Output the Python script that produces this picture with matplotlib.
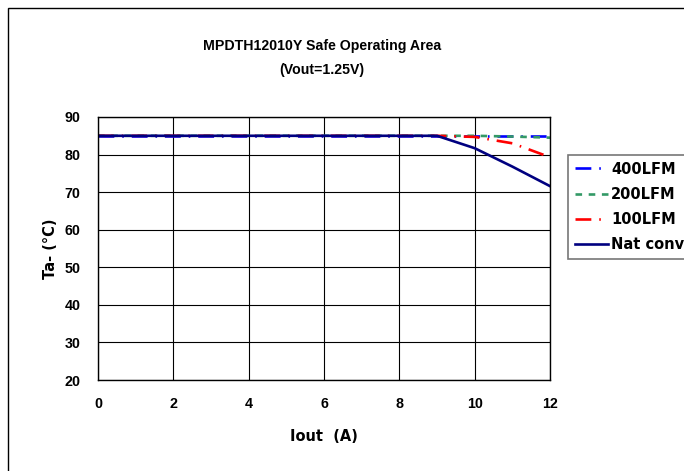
import matplotlib
matplotlib.use("Agg")
import matplotlib.pyplot as plt
from matplotlib.patches import Rectangle

plt.rcParams['font.family'] = ['Liberation Sans', 'DejaVu Sans']
plt.rcParams['font.weight'] = 'bold'

iout = [0, 1, 2, 3, 4, 5, 6, 7, 8, 9, 10, 11, 12]
lfm400 = [85, 85, 85, 85, 85, 85, 85, 85, 85, 85, 85, 85, 85]
lfm200 = [85, 85, 85, 85, 85, 85, 85, 85, 85, 85, 85, 84.8, 84.5]
lfm100 = [85, 85, 85, 85, 85, 85, 85, 85, 85, 85, 84.7, 83, 79.3]
natconv = [85, 85, 85, 85, 85, 85, 85, 85, 85, 85, 81.7, 76.8, 71.6]
xticks = [0, 2, 4, 6, 8, 10, 12]
yticks = [20, 30, 40, 50, 60, 70, 80, 90]

W, H = 684, 471
fig = plt.figure(figsize=(W / 100, H / 100), dpi=100)
fig.patch.set_facecolor('white')

# outer chart border
fig.add_artist(Rectangle((8 / W, -0.1), 1.2, 1 - 8 / H + 0.1, transform=fig.transFigure,
                         fill=False, edgecolor='black', linewidth=1.0, clip_on=False))

ax = fig.add_axes([98 / W, 1 - 380 / H, (550 - 98) / W, (380 - 117) / H])
lw = 1.9
l1, = ax.plot(iout, lfm400, color='#0000FF', lw=lw, dashes=(6, 3, 0.6, 3), label='400LFM')
l2, = ax.plot(iout, lfm200, color='#339966', lw=lw, dashes=(2.5, 2.5), label='200LFM')
l3, = ax.plot(iout, lfm100, color='#FF0000', lw=lw, dashes=(6, 3, 0.6, 3), label='100LFM')
l4, = ax.plot(iout, natconv, color='#000080', lw=lw, label='Nat conv')

ax.set_xlim(0, 12)
ax.set_ylim(20, 90)
ax.set_xticks(xticks)
ax.set_yticks(yticks)
ax.grid(True, color='black', linewidth=0.8)
ax.set_axisbelow(True)
ax.tick_params(length=0, labelsize=10.3)
ax.tick_params(axis='x', pad=12)
ax.tick_params(axis='y', pad=12.5)
for lab in ax.get_xticklabels() + ax.get_yticklabels():
    lab.set_fontweight('bold')
for s in ax.spines.values():
    s.set_linewidth(1.0)

ax.set_xlabel('Iout  (A)', fontsize=10.5, fontweight='bold', labelpad=13,
              family='DejaVu Sans')
ax.set_ylabel('Ta- (°C)', fontsize=10.5, fontweight='bold', labelpad=5,
              family='DejaVu Sans')

fig.text(322 / W, 1 - 46 / H, 'MPDTH12010Y Safe Operating Area', ha='center', va='center',
         fontsize=10.2, fontweight='bold')
fig.text(322 / W, 1 - 70 / H, '(Vout=1.25V)', ha='center', va='center',
         fontsize=10.2, fontweight='bold')

leg = fig.legend(handles=[l1, l2, l3, l4], loc='upper left',
                 bbox_to_anchor=(568 / W, 1 - 155 / H), bbox_transform=fig.transFigure,
                 prop={'size': 10.5, 'weight': 'bold', 'family': 'DejaVu Sans'},
                 frameon=True, fancybox=False,
                 handlelength=2.3, handletextpad=0.2, labelspacing=0.7,
                 borderpad=0.45, borderaxespad=0)
leg.get_frame().set_edgecolor('#555555')
leg.get_frame().set_linewidth(1.2)

fig.savefig('out.png', dpi=100)
